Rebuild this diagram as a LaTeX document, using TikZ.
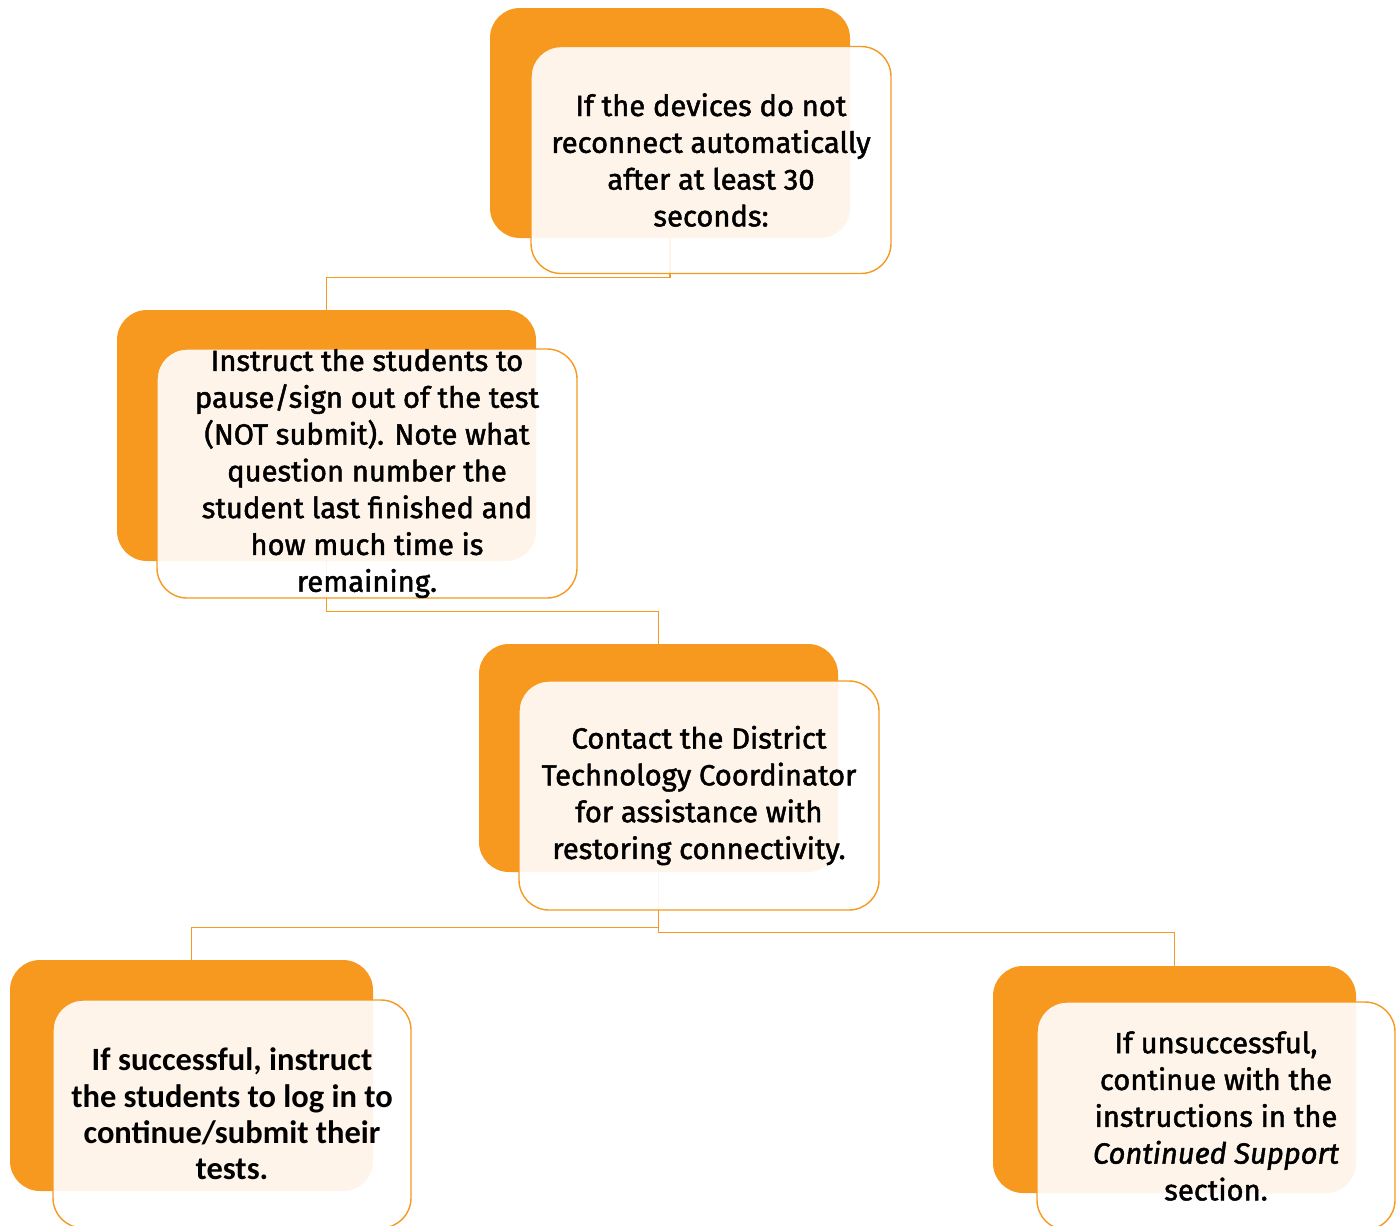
\documentclass[tikz,border=0pt]{standalone}
\usepackage{fontspec}
\newfontfamily\boxfont{Fira Sans}[FakeBold=1.6]
\newfontfamily\carlito{Carlito}
\definecolor{stepOrange}{HTML}{F7981F}
\tikzset{
    backbox/.style={fill=stepOrange, rounded corners=30pt, inner sep=0pt},
    frontbox/.style={draw=stepOrange, line width=1.4pt, fill=white, fill opacity=0.9, text opacity=1,
                     rounded corners=30pt, inner sep=0pt, align=center,
                     font=\boxfont\fontsize{29.2}{36.8}\selectfont},
    link/.style={draw=stepOrange, line width=1.4pt}
}
\begin{document}
\begin{tikzpicture}[x=1pt, y=-1pt]
    \useasboundingbox (0,0) rectangle (1400,1226);

    \node[backbox, minimum width=360pt, minimum height=230pt](back1) at (670,123) {};
    \node[backbox, minimum width=419pt, minimum height=251pt](back2) at (326.5,435.5) {};
    \node[backbox, minimum width=359pt, minimum height=228pt](back3) at (658.5,758) {};
    \node[backbox, minimum width=363pt, minimum height=231pt](back4) at (191.5,1075.5) {};
    \node[backbox, minimum width=363pt, minimum height=227pt](back5) at (1174.5,1079.5) {};

    \draw[link] (back1.south) -- ++(0,39) -| (back2.north);
    \draw[link] (back2.south) -- ++(0,50) -| (back3.north);
    \draw[link] (back3.south) -- ++(0,55) -| (back4.north);
    \draw[link] (back3.south) -- ++(0,60) -| (back5.north);

    \node[frontbox, minimum width=360pt, minimum height=227pt](front1) at (711,160)
        {If the devices do not\\reconnect automatically\\after at least 30\\seconds:};
    \node[frontbox, minimum width=420pt, minimum height=249pt](front2) at (367,473.5)
        {Instruct the students to\\pause/sign out of the test\\(NOT submit). Note what\\question number the\\student last finished and\\how much time is\\remaining.};
    \node[frontbox, minimum width=360pt, minimum height=229pt](front3) at (699,795.5)
        {Contact the District\\Technology Coordinator\\for assistance with\\restoring connectivity.};
    \node[frontbox, minimum width=358pt, minimum height=228pt, font=\carlito\bfseries\fontsize{32.5}{36.2}\selectfont](front4) at (232,1114)
        {If successful, instruct\\the students to log in to\\continue/submit their\\tests.};
    \node[frontbox, minimum width=358pt, minimum height=228pt](front5) at (1216,1116)
        {If unsuccessful,\\continue with the\\instructions in the\\\textit{Continued Support}\\section.};
\end{tikzpicture}
\end{document}
